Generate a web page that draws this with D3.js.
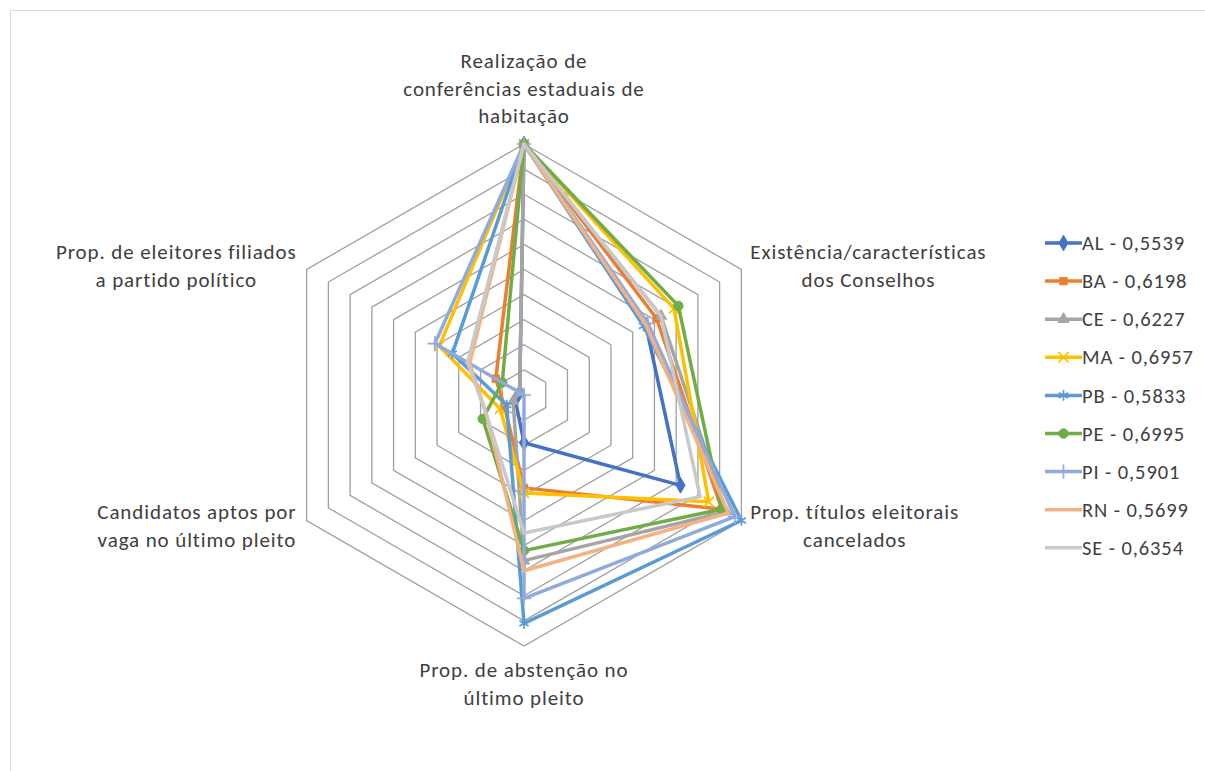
<!DOCTYPE html>
<html>
<head>
<meta charset="utf-8">
<script src="https://cdn.jsdelivr.net/npm/d3@7"></script>
<style>
  html, body { margin: 0; padding: 0; background: #fff; }
  svg { display: block; }
  text { font-family: Carlito, Lato, "Liberation Sans", sans-serif; fill: #404040; letter-spacing: 0.9px; }
</style>
</head>
<body>
<svg id="chart" width="1205" height="771"></svg>
<script>
// Radar axes, clockwise from the top
const axisLabels = [
  ["Realização de", "conferências estaduais de", "habitação"],
  ["Existência/características", "dos Conselhos"],
  ["Prop. títulos eleitorais", "cancelados"],
  ["Prop. de abstenção no", "último pleito"],
  ["Candidatos aptos por", "vaga no último pleito"],
  ["Prop. de eleitores filiados", "a partido político"]
];

// States and their composite index shown in the legend
const states = ["AL", "BA", "CE", "MA", "PB", "PE", "PI", "RN", "SE"];
const indexValues = ["0,5539", "0,6198", "0,6227", "0,6957", "0,5833", "0,6995", "0,5901", "0,5699", "0,6354"];

// Normalised indicator values per state (same order as axisLabels)
const AL = [1.00, 0.56, 0.72, 0.19, 0.04, 0.02];
const BA = [1.00, 0.61, 0.91, 0.37, 0.09, 0.13];
const CE = [1.00, 0.63, 0.93, 0.66, 0.05, 0.02];
const MA = [1.00, 0.69, 0.85, 0.39, 0.11, 0.39];
const PB = [1.00, 0.55, 1.00, 0.91, 0.08, 0.33];
const PE = [1.00, 0.71, 0.91, 0.62, 0.19, 0.10];
const PI = [1.00, 0.57, 0.97, 0.81, 0.00, 0.41];
const RN = [1.00, 0.56, 0.94, 0.70, 0.17, 0.25];
const SE = [1.00, 0.63, 0.81, 0.55, 0.17, 0.26];

// Grid rings
const gridLevels = [0.1, 0.2, 0.3, 0.4, 0.5, 0.6, 0.7, 0.8, 0.9, 1.0];

const seriesValues = [AL, BA, CE, MA, PB, PE, PI, RN, SE];
const colors = ["#4472C4", "#ED7D31", "#A5A5A5", "#FFC000", "#5B9BD5", "#70AD47", "#8FAADC", "#F4B183", "#C9C9C9"];
const markers = ["diamond", "square", "triangle", "x", "asterisk", "circle", "plus", null, null];

const svg = d3.select("#chart");
const W = 1205, H = 771;

// chart area border
svg.append("rect")
  .attr("x", 10.5).attr("y", 10.5)
  .attr("width", W + 20).attr("height", H + 20)
  .attr("fill", "#fff").attr("stroke", "#D9D9D9").attr("stroke-width", 1);

const cx = 524, cy = 395, R = 251;
const rScale = d3.scaleLinear().domain([0, 1]).range([0, R]);
const nAxes = axisLabels.length;
const angle = i => i * 2 * Math.PI / nAxes;

const g = svg.append("g").attr("transform", `translate(${cx},${cy})`);

const radial = d3.lineRadial()
  .angle((d, i) => angle(i))
  .radius(d => rScale(d))
  .curve(d3.curveLinearClosed);

// hexagonal gridlines
g.append("g").selectAll("path")
  .data(gridLevels)
  .join("path")
  .attr("d", lv => radial(d3.range(nAxes).map(() => lv)))
  .attr("fill", "none")
  .attr("stroke", "#A0A0A0")
  .attr("stroke-width", 1.3);

const pointXY = (v, i) => {
  const a = angle(i);
  return [rScale(v) * Math.sin(a), -rScale(v) * Math.cos(a)];
};

const symbolTypes = {
  diamond: d3.symbolDiamond,
  square: d3.symbolSquare,
  triangle: d3.symbolTriangle,
  circle: d3.symbolCircle,
  x: d3.symbolX,
  asterisk: d3.symbolAsterisk,
  plus: d3.symbolPlus
};
const strokeOnly = { x: true, asterisk: true, plus: true };
const symbolSize = { diamond: 70, square: 55, triangle: 55, circle: 70, x: 70, asterisk: 80, plus: 70 };

function drawMarker(sel, type, color) {
  if (!type) return;
  sel.append("path")
    .attr("d", d3.symbol().type(symbolTypes[type]).size(symbolSize[type])())
    .attr("fill", strokeOnly[type] ? "none" : color)
    .attr("stroke", color)
    .attr("stroke-width", strokeOnly[type] ? 1.7 : 1);
}

// series polygons
seriesValues.forEach((vals, s) => {
  const sg = g.append("g");
  sg.append("path")
    .attr("d", radial(vals))
    .attr("fill", "none")
    .attr("stroke", colors[s])
    .attr("stroke-width", 3.5)
    .attr("stroke-linejoin", "round");
  vals.forEach((v, i) => {
    const [x, y] = pointXY(v, i);
    const m = sg.append("g").attr("transform", `translate(${x},${y})`);
    drawMarker(m, markers[s], colors[s]);
  });
});

// axis labels
const fontSize = 21, lineH = 27.5;
const labelG = svg.append("g").attr("font-size", fontSize);
axisLabels.forEach((lines, i) => {
  const [vx, vy] = pointXY(1, i).map((d, k) => d + (k ? cy : cx));
  const t = labelG.append("text").attr("text-anchor", "middle");
  const tsp = lines.map(l => t.append("tspan").text(l));
  const widths = tsp.map(ts => ts.node().getComputedTextLength());
  const maxW = d3.max(widths);
  const n = lines.length;
  let centerX, firstY;
  if (i === 0) { centerX = vx; firstY = vy - 28 - (n - 1) * lineH; }
  else if (i === 3) { centerX = vx; firstY = vy + 24; }
  else if (i === 1 || i === 2) {
    centerX = vx + 9 + maxW / 2;
    firstY = vy + (i === 1 ? -4 : 5) - (n - 1) * lineH / 2;
  } else {
    centerX = vx - 10 - maxW / 2;
    firstY = vy + (i === 5 ? -4 : 5) - (n - 1) * lineH / 2;
  }
  tsp.forEach((ts, k) => ts.attr("x", centerX).attr("y", firstY + k * lineH).attr("dy", "0.35em"));
});

// legend
const legend = svg.append("g").attr("transform", "translate(1045,243)");
states.forEach((st, s) => {
  const row = legend.append("g").attr("transform", `translate(0,${s * 38.1})`);
  row.append("line").attr("x1", 0).attr("x2", 37).attr("y1", 0).attr("y2", 0)
    .attr("stroke", colors[s]).attr("stroke-width", 3.5);
  const m = row.append("g").attr("transform", "translate(18.5,0)");
  drawMarker(m, markers[s], colors[s]);
  row.append("text").attr("x", 37).attr("y", 0).attr("dy", "0.35em")
    .attr("font-size", 20.5)
    .text(`${st} - ${indexValues[s]}`);
});
</script>
</body>
</html>
